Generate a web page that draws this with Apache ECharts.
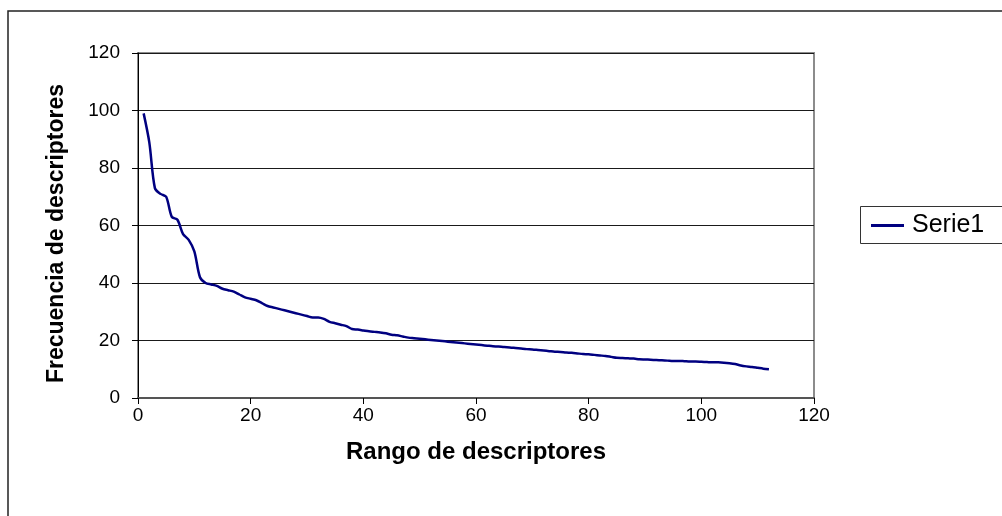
<!DOCTYPE html>
<html>
<head>
<meta charset="utf-8">
<script src="https://cdn.jsdelivr.net/npm/echarts@6/dist/echarts.min.js"></script>
<style>
  html, body { margin: 0; padding: 0; background: #fff; }
  #chart { width: 1002px; height: 516px; }
</style>
</head>
<body>
<div id="chart"></div>
<script>
// Frequency of each descriptor, ordered by rank (rank 1 = most frequent)
const seriesName = 'Serie1';
const frecuencias = [
  99, 89, 73, 71, 70, 63, 62, 57, 55, 51,
  42, 40, 39.5, 39, 38, 37.5, 37, 36, 35, 34.5,
  34, 33, 32, 31.5, 31, 30.5, 30, 29.5, 29, 28.5,
  28, 28, 27.5, 26.5, 26, 25.5, 25, 24, 23.8, 23.5,
  23.2, 23, 22.8, 22.5, 22, 21.8, 21.4, 21, 20.8, 20.6,
  20.4, 20.2, 20, 19.8, 19.6, 19.4, 19.2, 19, 18.8, 18.6,
  18.4, 18.2, 18, 17.9, 17.7, 17.6, 17.4, 17.2, 17, 16.9,
  16.7, 16.5, 16.3, 16.1, 16, 15.8, 15.7, 15.5, 15.3, 15.2,
  15, 14.8, 14.6, 14.3, 14, 13.9, 13.8, 13.7, 13.5, 13.4,
  13.3, 13.2, 13.1, 13, 12.9, 12.9, 12.8, 12.7, 12.7, 12.6,
  12.5, 12.4, 12.4, 12.3, 12.1, 11.8, 11.3, 11, 10.8, 10.5,
  10.2, 10
];
const xTitle = 'Rango de descriptores';
const yTitle = 'Frecuencia de descriptores';

// pair each frequency with its rank
const puntos = frecuencias.map((v, i) => [i + 1, v]);

const font = 'Liberation Sans, Arial, sans-serif';
const chart = echarts.init(document.getElementById('chart'));

chart.setOption({
  animation: false,
  backgroundColor: '#fff',
  graphic: [{
    // outer chart frame
    type: 'rect',
    shape: { x: 8, y: 11, width: 1100, height: 600 },
    style: { fill: 'none', stroke: '#222', lineWidth: 1.5 },
    silent: true,
    z: -10
  }, {
    // legend frame, running past the right edge
    type: 'rect',
    shape: { x: 860.5, y: 206.5, width: 200, height: 37 },
    style: { fill: 'none', stroke: '#333', lineWidth: 1 },
    silent: true
  }],
  grid: {
    left: 138, right: 188, top: 53, bottom: 118,
    show: true, borderColor: '#8c8c8c', borderWidth: 2
  },
  legend: {
    data: [seriesName],
    left: 860, top: 206,
    orient: 'vertical',
    padding: [7, 10, 7, 11],
    borderWidth: 0,
    icon: 'rect', itemWidth: 33, itemHeight: 3, itemGap: 0,
    textStyle: { fontFamily: font, fontSize: 25, color: '#000', padding: [0, 0, 0, 3] }
  },
  xAxis: {
    type: 'value', min: 0, max: 120, interval: 20,
    name: xTitle, nameLocation: 'middle', nameGap: 42,
    nameTextStyle: { fontFamily: font, fontSize: 24, fontWeight: 'bold', color: '#000' },
    axisLine: { lineStyle: { color: '#555', width: 2 } },
    axisTick: { show: true, length: 6, lineStyle: { color: '#000' } },
    axisLabel: { fontFamily: font, fontSize: 19, color: '#000', margin: 8 },
    splitLine: { show: false }
  },
  yAxis: {
    type: 'value', min: 0, max: 120, interval: 20,
    name: yTitle, nameLocation: 'middle', nameGap: 70,
    nameTextStyle: {
      fontFamily: font, fontSize: 23, fontWeight: 'bold', color: '#000',
      padding: [0, 16, 0, 0]
    },
    axisLine: { show: true, lineStyle: { color: '#000', width: 1 } },
    axisTick: { show: true, length: 6, lineStyle: { color: '#000' } },
    axisLabel: { fontFamily: font, fontSize: 19, color: '#000', margin: 18 },
    splitLine: { show: true, lineStyle: { color: '#1a1a1a', width: 1 } }
  },
  series: [{
    name: seriesName,
    type: 'line',
    data: puntos,
    symbol: 'none',
    smooth: 0.3,
    lineStyle: { color: '#000080', width: 2.5 },
    itemStyle: { color: '#000080' }
  }]
});
</script>
</body>
</html>
